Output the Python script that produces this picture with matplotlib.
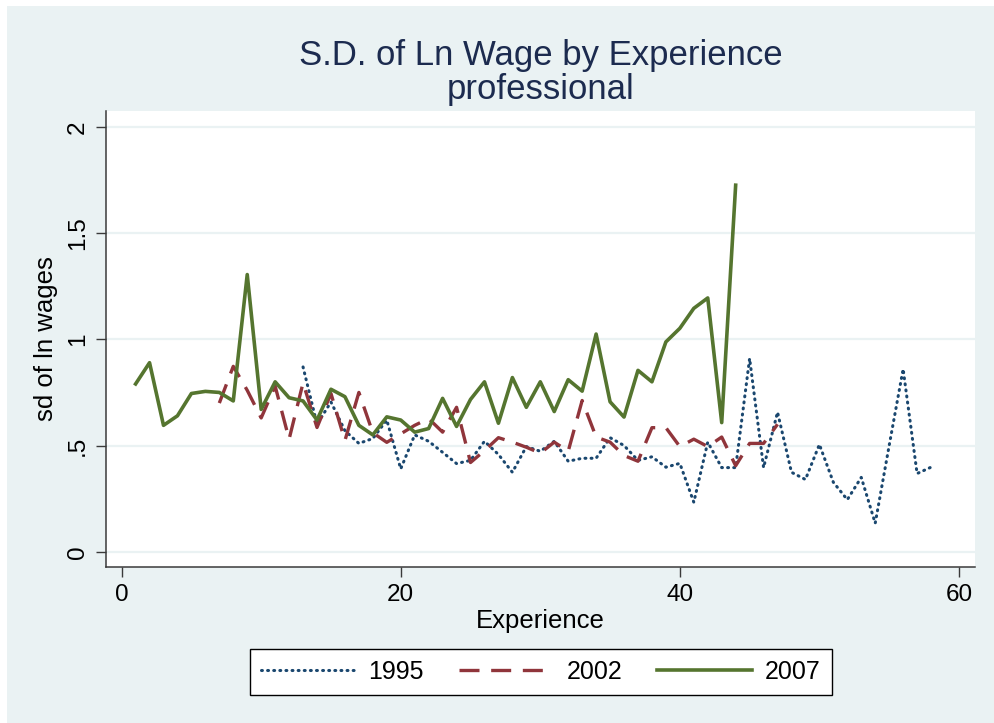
import matplotlib
matplotlib.use("Agg")
import matplotlib.pyplot as plt
from matplotlib.patches import Rectangle

plt.rcParams['font.family'] = ['Liberation Sans', 'DejaVu Sans']

exp_1995 = list(range(13, 59))
sd_1995 = [0.87, 0.60, 0.705, 0.57, 0.51, 0.533, 0.62, 0.39, 0.55, 0.52,
           0.468, 0.415, 0.43, 0.52, 0.458, 0.374, 0.495, 0.473, 0.52, 0.426,
           0.44, 0.44, 0.537, 0.50, 0.43, 0.447, 0.398, 0.416, 0.233, 0.516,
           0.396, 0.396, 0.91, 0.396, 0.657, 0.374, 0.34, 0.505, 0.327, 0.245,
           0.35, 0.134, 0.50, 0.86, 0.368, 0.398]

exp_2002 = list(range(7, 48))
sd_2002 = [0.70, 0.873, 0.76, 0.63, 0.78, 0.53, 0.795, 0.585, 0.745, 0.523,
           0.75, 0.56, 0.515, 0.555, 0.595, 0.627, 0.563, 0.68, 0.42, 0.476,
           0.537, 0.516, 0.492, 0.464, 0.516, 0.473, 0.712, 0.54, 0.516, 0.453,
           0.426, 0.584, 0.584, 0.495, 0.53, 0.495, 0.54, 0.405, 0.51, 0.51,
           0.60]

exp_2007 = list(range(1, 45))
sd_2007 = [0.79, 0.89, 0.595, 0.64, 0.745, 0.755, 0.75, 0.71, 1.305, 0.67,
           0.80, 0.725, 0.71, 0.62, 0.765, 0.73, 0.595, 0.55, 0.635, 0.62,
           0.563, 0.58, 0.722, 0.59, 0.717, 0.80, 0.605, 0.82, 0.68, 0.80,
           0.66, 0.81, 0.756, 1.025, 0.706, 0.634, 0.854, 0.80, 0.988, 1.052,
           1.146, 1.195, 0.608, 1.726]

series_labels = ["1995", "2002", "2007"]
x_ticks = [0, 20, 40, 60]
y_ticks = [0, 0.5, 1, 1.5, 2]
y_tick_labels = ["0", ".5", "1", "1.5", "2"]

bg = '#EAF2F3'
navy = '#1A476F'
maroon = '#90353B'
green = '#55752F'

fig = plt.figure(figsize=(9.94, 7.23), dpi=100, facecolor='white')
fig.patches.append(Rectangle((7/994, 0), 1 - 7/994, 1 - 6/723,
                             transform=fig.transFigure, facecolor=bg,
                             edgecolor='none', zorder=-10))

ax = fig.add_axes([106/994, 1 - 566.7/723, (975 - 106)/994, (566.7 - 111)/723])
ax.set_facecolor('white')

ax.plot(exp_1995, sd_1995, color=navy, lw=2.2, linestyle=(0, (0.3, 1.7)),
        dash_capstyle='round', label=series_labels[0], zorder=3)
ax.plot(exp_2002, sd_2002, color=maroon, lw=2.4, linestyle=(0, (6, 3.5)),
        label=series_labels[1], zorder=3)
ax.plot(exp_2007, sd_2007, color=green, lw=2.6, linestyle='-',
        label=series_labels[2], zorder=3)

ax.set_xlim(-1.12, 61.15)
ax.set_ylim(-0.0706, 2.0753)
ax.set_xticks(x_ticks)
ax.set_xticklabels([str(t) for t in x_ticks])
ax.set_yticks(y_ticks)
ax.set_yticklabels(y_tick_labels, rotation=90, va='center')

for y in y_ticks:
    ax.axhline(y, color=bg, lw=1.6, zorder=1)

for s in ['top', 'right']:
    ax.spines[s].set_visible(False)
for s in ['left', 'bottom']:
    ax.spines[s].set_color('#3a3a3a')
    ax.spines[s].set_linewidth(1.1)

ax.tick_params(axis='both', direction='out', length=7.5, width=1.0,
               color='#3a3a3a', labelsize=17.5, labelcolor='black', pad=5)

ax.set_xlabel("Experience", fontsize=18.5, color='black', labelpad=2)
ax.set_ylabel("sd of ln wages", fontsize=18.5, color='black', labelpad=6)

fig.text(540.5/994, 1 - 55/723, "S.D. of Ln Wage by Experience", ha='center',
         va='center', fontsize=25, color='#1C2B4F')
fig.text(540.5/994, 1 - 89/723, "professional", ha='center', va='center',
         fontsize=25, color='#1C2B4F')

leg = fig.legend(loc='center', bbox_to_anchor=(540.5/994, 1 - 672/723), ncol=3,
                 fontsize=18, frameon=True, fancybox=False, handlelength=3.8,
                 handletextpad=0.5, columnspacing=1.4, borderpad=0.45,
                 borderaxespad=0)
leg.get_frame().set_edgecolor('black')
leg.get_frame().set_linewidth(1.0)
leg.get_frame().set_facecolor('white')
leg.get_frame().set_alpha(1)

fig.savefig("out.png", dpi=100, facecolor=fig.get_facecolor())
